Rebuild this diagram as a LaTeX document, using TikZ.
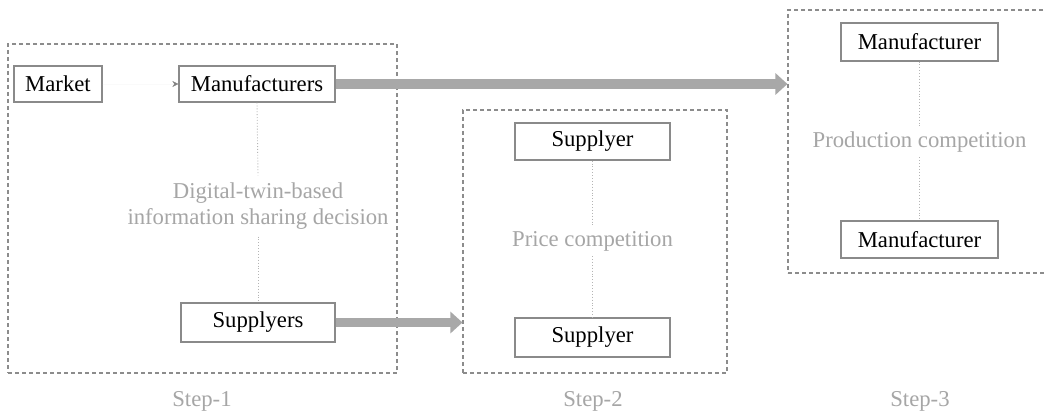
\documentclass[tikz,border=0pt]{standalone}
\usepackage{fontspec}
\setmainfont{Liberation Serif}
\usetikzlibrary{arrows.meta}
\definecolor{boxc}{HTML}{8A8A8A}
\definecolor{dashc}{HTML}{8C8C8C}
\definecolor{txtc}{HTML}{A6A6A6}
\definecolor{dotc}{HTML}{B4B4B4}
\definecolor{arrc}{HTML}{A8A8A8}
\begin{document}
\begin{tikzpicture}[x=1pt,y=-1pt,
  box/.style={draw=boxc, line width=1.2pt, inner sep=0pt, text=black,
    font=\fontsize{22.7}{26}\selectfont},
  lbl/.style={text=txtc, font=\fontsize{22.7}{26}\selectfont, align=center, inner sep=5pt},
  stagebox/.style={draw=dashc, dash pattern=on 4pt off 3pt, line width=1.1pt, inner sep=0pt},
  dots/.style={draw=dotc, dotted, line width=0.9pt},
  bigarrow/.style={draw=arrc, line width=9pt, -{Triangle[length=12pt,width=21pt,color=arrc]}},
]
\useasboundingbox (0,0) rectangle (1044,412);
\fill[white] (0,0) rectangle (1044,412);
\begin{scope}
\clip (0,0) rectangle (1044,412);
% stage boxes
\node[stagebox, minimum width=389pt, minimum height=329pt] (s1) at (202.5,208.5) {};
\node[stagebox, minimum width=264pt, minimum height=263pt] (s2) at (595,241.5) {};
\node[stagebox, minimum width=276pt, minimum height=263pt] (s3) at (926,141.5) {};
\end{scope}
% boxes
\node[box, minimum width=88pt, minimum height=36pt] (market) at (58,84) {Market};
\node[box, minimum width=156pt, minimum height=36pt] (manus) at (257,84) {Manufacturers};
\node[box, minimum width=154pt, minimum height=39pt] (supps) at (258,322.5) {Supplyers};
\node[box, minimum width=155pt, minimum height=37pt] (sup1) at (592.5,141.5) {Supplyer};
\node[box, minimum width=155pt, minimum height=39pt] (sup2) at (592.5,337.5) {Supplyer};
\node[box, minimum width=157pt, minimum height=38pt] (man1) at (919.5,42) {Manufacturer};
\node[box, minimum width=157pt, minimum height=37pt] (man2) at (919.5,239.5) {Manufacturer};
% gray labels
\node[lbl, inner sep=7pt] (dt) at (258,206) {Digital-twin-based\\information sharing decision};
\node[lbl] (price) at (592.5,241) {Price competition};
\node[lbl] (prod) at (919.5,142) {Production competition};
% step labels
\node[lbl] (st1) at (202,401) {Step-1};
\node[lbl] (st2) at (593,401) {Step-2};
\node[lbl] (st3) at (920,401) {Step-3};
% dotted connectors
\draw[dots] (manus.south) -- (dt.north);
\draw[dots] (dt.south) -- (supps.north);
\draw[dots] (sup1.south) -- (price.north);
\draw[dots] (price.south) -- (sup2.north);
\draw[dots] (man1.south) -- (prod.north);
\draw[dots] (prod.south) -- (man2.north);
% arrows
\draw[draw=black!2, line width=0.4pt, -{Stealth[length=6pt,width=6pt,color=gray]}] (market) -- (manus);
\coordinate (a1) at (manus.east -| s3.west);
\coordinate (a2) at (supps.east -| s2.west);
\draw[bigarrow] (manus.east) -- (a1);
\draw[bigarrow] (supps.east) -- (a2);
\end{tikzpicture}
\end{document}
